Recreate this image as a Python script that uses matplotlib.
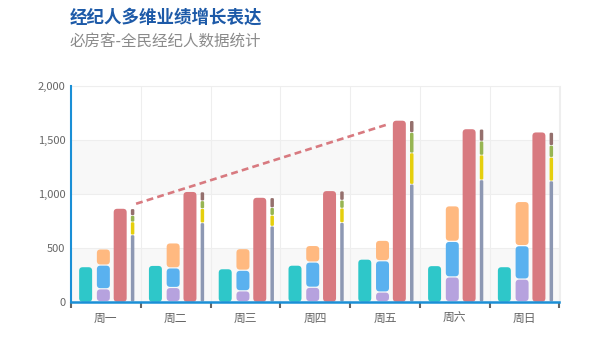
import numpy as np
import matplotlib
matplotlib.use('Agg')
import matplotlib.pyplot as plt
from matplotlib.patches import FancyBboxPatch
from matplotlib.ticker import FuncFormatter, FixedLocator

plt.rcParams['font.family'] = ['Noto Sans CJK SC', 'DejaVu Sans']

days = ['周一', '周二', '周三', '周四', '周五', '周六', '周日']
direct = [320, 332, 301, 334, 390, 330, 320]
email = [120, 132, 101, 134, 90, 230, 210]
union = [220, 182, 191, 234, 290, 330, 310]
video = [150, 232, 201, 154, 190, 330, 410]
search = [862, 1018, 964, 1026, 1679, 1600, 1570]
baidu = [620, 732, 701, 734, 1090, 1130, 1120]
google = [120, 132, 101, 134, 290, 230, 220]
bing = [60, 72, 71, 74, 190, 130, 110]
others = [62, 82, 91, 84, 109, 110, 120]

# macarons palette
c_direct, c_email, c_union, c_video = '#2ec7c9', '#b6a2de', '#5ab1ef', '#ffb980'
c_search, c_baidu, c_google, c_bing, c_others = '#d87a80', '#8d98b3', '#e5cf0d', '#97b552', '#95706d'
axis_blue = '#1a8fd6'

fig = plt.figure(figsize=(6, 3.4), dpi=100)
ax = fig.add_axes([0.1183, 0.1126, 0.8142, 0.6342])
ax.set_xlim(-0.5, 6.5)
ax.set_ylim(0, 2000)

# pixel sizes of one data unit, used to keep the bar corners round
px_x = 488.5 / 7
px_y = 215.6 / 2000
aspect = px_x / px_y


def rbar(x, bottom, height, width, color, r_px=3.5, gap_px=0.0):
    g = gap_px / px_y
    y0 = bottom + g / 2
    h = height - g
    r = min(r_px, width * px_x / 2, h * px_y / 2)
    p = FancyBboxPatch((x - width / 2, y0), width, h,
                       boxstyle=f"round,pad=0,rounding_size={r / px_x}",
                       mutation_aspect=aspect, fc=color, ec='none', zorder=3)
    ax.add_patch(p)


w = 0.186
w_thin = 0.05
off_direct, off_stack, off_search, off_thin = -0.29, -0.036, 0.205, 0.383

for i in range(len(days)):
    rbar(i + off_direct, 0, direct[i], w, c_direct)
    b = 0
    for vals, col in [(email, c_email), (union, c_union), (video, c_video)]:
        rbar(i + off_stack, b, vals[i], w, col, gap_px=1.2)
        b += vals[i]
    rbar(i + off_search, 0, search[i], w, c_search)
    b = 0
    for vals, col in [(baidu, c_baidu), (google, c_google), (bing, c_bing), (others, c_others)]:
        rbar(i + off_thin, b, vals[i], w_thin, col, r_px=1.2, gap_px=0.6)
        b += vals[i]

# dashed line from min to max of the search series
i0, i1 = int(np.argmin(search)), int(np.argmax(search))
xs = np.array([i0, i1]) + off_search
ys = np.array([search[i0], search[i1]], dtype=float)
t = np.array([0.057, 0.963])
ax.plot(xs[0] + (xs[1] - xs[0]) * t, ys[0] + (ys[1] - ys[0]) * t,
        color=c_search, lw=1.9, linestyle=(0, (2.6, 1.6)), zorder=4,
        dash_capstyle='butt')

# alternating background bands
for lo in (0, 1000):
    ax.axhspan(lo, lo + 500, color='#f8f8f8', zorder=0, lw=0)

ax.set_yticks([0, 500, 1000, 1500, 2000])
ax.yaxis.set_major_formatter(FuncFormatter(lambda v, p: f'{int(v):,}'))
ax.tick_params(axis='y', length=0, pad=4, labelsize=8, labelcolor='#666666')
ax.set_xticks(range(len(days)))
ax.set_xticklabels(days)
ax.xaxis.set_minor_locator(FixedLocator(np.arange(-0.5, 7, 1)))
ax.tick_params(axis='x', which='major', length=0, pad=7, labelsize=8.5, labelcolor='#666666')
ax.tick_params(axis='x', which='minor', length=4, width=1.5, color='#666666', direction='out')
ax.grid(axis='y', color='#eeeeee', lw=0.8, zorder=1)
ax.grid(axis='x', which='minor', color='#eeeeee', lw=0.8, zorder=1)
ax.set_axisbelow(True)

for s in ('top', 'right'):
    ax.spines[s].set_color('#eeeeee')
    ax.spines[s].set_linewidth(0.8)
ax.spines['left'].set_color(axis_blue)
ax.spines['left'].set_linewidth(1.5)
ax.spines['bottom'].set_color(axis_blue)
ax.spines['bottom'].set_linewidth(1.8)
ax.spines['left'].set_zorder(5)
ax.spines['bottom'].set_zorder(5)

fig.text(70 / 600, 1 - 18 / 340, '经纪人多维业绩增长表达', fontsize=12.6,
         fontweight='bold', color='#1d5aa8', va='center', ha='left')
fig.text(70 / 600, 1 - 41 / 340, '必房客-全民经纪人数据统计', fontsize=11.2,
         color='#8a8a8a', va='center', ha='left')

fig.savefig('out.png', dpi=100)
